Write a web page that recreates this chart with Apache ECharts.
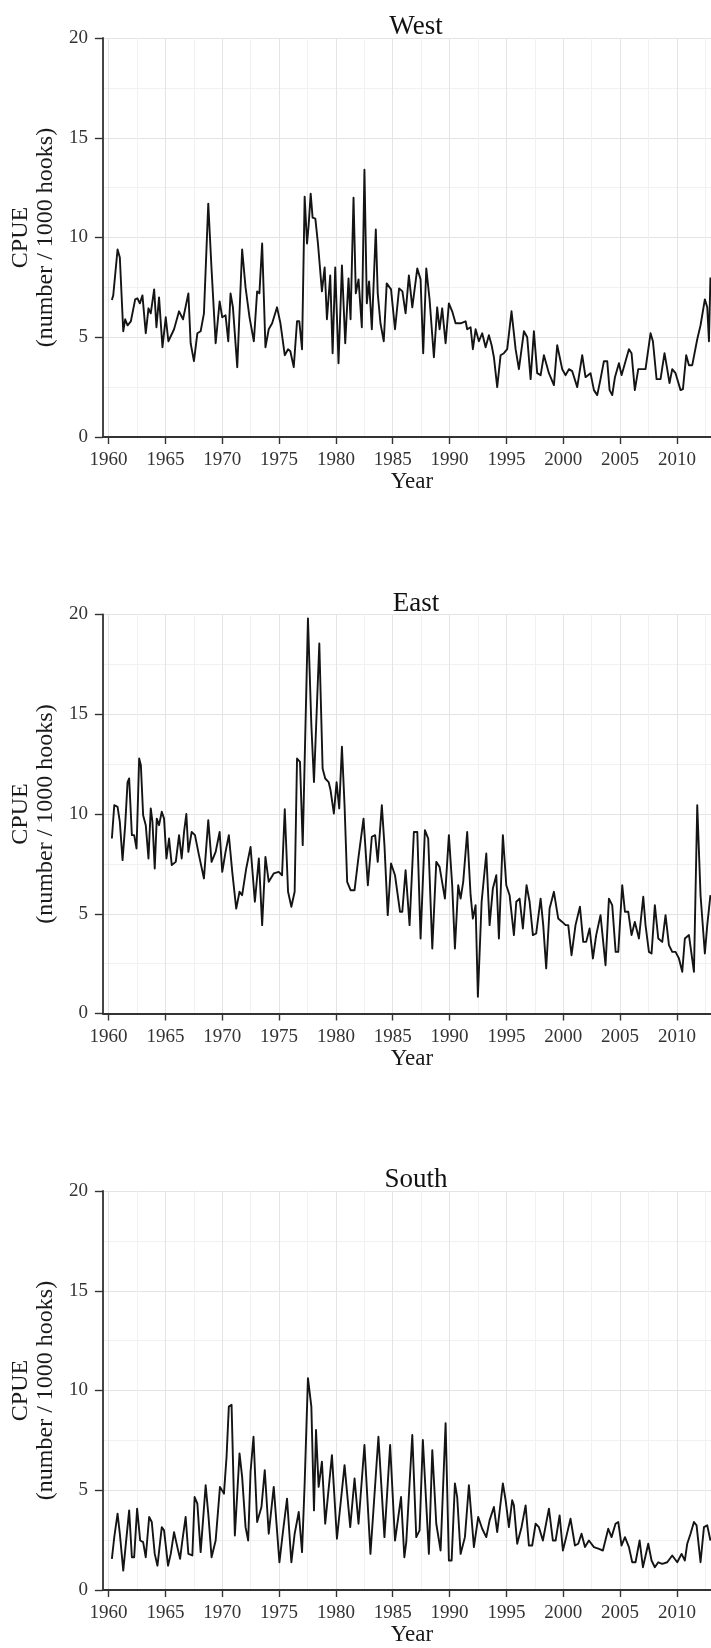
<!DOCTYPE html>
<html>
<head>
<meta charset="utf-8">
<title>CPUE by region</title>
<script src="https://cdn.jsdelivr.net/npm/echarts@6/dist/echarts.min.js"></script>
<style>
  html, body { margin: 0; padding: 0; background: #ffffff; }
  #chart { width: 711px; height: 1648px; }
</style>
</head>
<body>
<div id="chart"></div>
<script>
// Quarterly catch per unit effort (number / 1000 hooks), by region.
const regionNames = ['West', 'East', 'South'];

const westYear = [1960.29,1960.41,1960.79,1960.99,1961.29,1961.46,1961.67,1961.96,1962.34,1962.54,1962.75,1962.98,1963.27,1963.51,1963.71,1964.01,1964.21,1964.44,1964.74,1965.03,1965.26,1965.76,1966.2,1966.55,1967.02,1967.22,1967.51,1967.81,1968.1,1968.39,1968.77,1969.06,1969.42,1969.77,1970.0,1970.29,1970.53,1970.73,1970.94,1971.32,1971.75,1972.05,1972.4,1972.78,1973.07,1973.27,1973.51,1973.8,1974.09,1974.39,1974.82,1975.12,1975.5,1975.79,1975.99,1976.29,1976.58,1976.78,1977.02,1977.25,1977.46,1977.6,1977.78,1977.95,1978.19,1978.42,1978.77,1979.01,1979.21,1979.5,1979.71,1979.94,1980.23,1980.53,1980.82,1981.11,1981.29,1981.55,1981.75,1981.99,1982.28,1982.51,1982.72,1982.92,1983.16,1983.51,1983.68,1983.92,1984.21,1984.47,1984.85,1985.2,1985.56,1985.85,1986.13,1986.42,1986.72,1987.16,1987.45,1987.68,1987.95,1988.24,1988.62,1988.91,1989.12,1989.35,1989.65,1989.94,1990.23,1990.53,1990.97,1991.41,1991.55,1991.85,1992.05,1992.29,1992.58,1992.87,1993.17,1993.46,1993.7,1993.9,1994.19,1994.49,1994.78,1995.07,1995.45,1995.81,1996.1,1996.54,1996.83,1997.13,1997.42,1997.71,1998.01,1998.3,1998.74,1999.18,1999.47,1999.91,2000.21,2000.5,2000.79,2001.23,2001.67,2001.96,2002.4,2002.7,2002.99,2003.28,2003.58,2003.87,2004.08,2004.31,2004.55,2004.9,2005.13,2005.43,2005.78,2006.01,2006.3,2006.6,2006.89,2007.24,2007.68,2007.89,2008.21,2008.56,2008.91,2009.15,2009.35,2009.59,2009.88,2010.32,2010.53,2010.82,2011.06,2011.35,2011.79,2012.08,2012.46,2012.67,2012.82,2012.95];
const westCpue = [6.87,7.1,9.4,9.0,5.3,5.9,5.6,5.8,6.9,6.95,6.7,7.1,5.2,6.45,6.2,7.4,5.5,7.0,4.5,6.0,4.8,5.4,6.3,5.9,7.2,4.7,3.8,5.2,5.3,6.2,11.7,8.4,4.7,6.8,6.0,6.1,4.8,7.2,6.5,3.5,9.4,7.5,6.0,4.8,7.3,7.2,9.7,4.5,5.4,5.7,6.5,5.7,4.1,4.4,4.3,3.5,5.8,5.8,4.4,12.05,9.7,10.6,12.2,11.0,10.95,9.7,7.3,8.5,5.9,8.1,4.2,8.5,3.7,8.6,4.7,7.95,5.9,12.0,7.2,7.9,5.5,13.4,6.7,7.8,5.4,10.4,7.2,5.7,4.8,7.7,7.4,5.4,7.45,7.3,6.2,8.1,6.5,8.45,7.9,4.2,8.45,6.9,4.0,6.5,5.4,6.45,4.7,6.7,6.3,5.7,5.7,5.8,5.4,5.5,4.4,5.4,4.8,5.2,4.5,5.1,4.6,4.0,2.5,4.1,4.2,4.4,6.3,4.4,3.4,5.3,5.0,2.9,5.3,3.2,3.1,4.1,3.2,2.6,4.6,3.4,3.1,3.4,3.3,2.5,4.1,3.0,3.2,2.35,2.1,2.9,3.8,3.8,2.35,2.1,3.0,3.7,3.1,3.7,4.4,4.2,2.35,3.4,3.4,3.4,5.2,4.8,2.9,2.9,4.2,3.4,2.7,3.4,3.2,2.35,2.4,4.1,3.6,3.6,4.9,5.6,6.9,6.5,4.8,8.0];

const eastYear = [1960.29,1960.5,1960.79,1960.99,1961.23,1961.46,1961.67,1961.81,1962.05,1962.25,1962.46,1962.69,1962.84,1963.04,1963.27,1963.51,1963.71,1963.86,1964.06,1964.24,1964.44,1964.68,1964.88,1965.09,1965.32,1965.56,1965.91,1966.2,1966.43,1966.64,1966.84,1967.02,1967.31,1967.6,1967.95,1968.39,1968.77,1969.06,1969.42,1969.77,1970.0,1970.29,1970.58,1970.88,1971.23,1971.52,1971.75,1972.11,1972.49,1972.87,1973.22,1973.51,1973.8,1974.09,1974.53,1974.97,1975.26,1975.5,1975.79,1976.08,1976.37,1976.58,1976.84,1977.08,1977.25,1977.54,1977.84,1978.07,1978.33,1978.54,1978.83,1979.06,1979.36,1979.53,1979.82,1980.06,1980.29,1980.53,1980.76,1980.99,1981.29,1981.64,1981.99,1982.43,1982.81,1983.16,1983.45,1983.68,1984.04,1984.27,1984.56,1984.85,1985.2,1985.64,1985.84,1986.13,1986.48,1986.86,1987.16,1987.45,1987.83,1988.12,1988.48,1988.83,1989.12,1989.59,1989.94,1990.23,1990.47,1990.76,1990.97,1991.2,1991.55,1991.85,1992.05,1992.29,1992.49,1992.82,1993.23,1993.52,1993.81,1994.11,1994.34,1994.69,1994.99,1995.28,1995.66,1995.87,1996.16,1996.45,1996.77,1997.04,1997.33,1997.62,1998.01,1998.24,1998.5,1998.8,1999.18,1999.56,1999.91,2000.21,2000.44,2000.73,2001.08,2001.47,2001.76,2002.02,2002.32,2002.61,2002.9,2003.28,2003.72,2004.02,2004.31,2004.61,2004.84,2005.19,2005.43,2005.72,2006.01,2006.3,2006.66,2007.04,2007.24,2007.54,2007.77,2008.06,2008.36,2008.71,2009.0,2009.3,2009.59,2009.88,2010.18,2010.47,2010.7,2011.06,2011.5,2011.79,2012.08,2012.46,2012.67,2012.95];
const eastCpue = [8.77,10.44,10.36,9.6,7.69,9.44,11.6,11.78,8.94,8.94,8.27,12.78,12.45,9.94,9.44,7.77,10.28,9.6,7.27,9.77,9.44,10.11,9.77,7.77,8.77,7.44,7.6,8.94,7.77,9.1,10.0,8.1,9.1,8.94,7.94,6.77,9.69,7.6,8.1,9.1,7.1,8.1,8.94,7.1,5.26,6.1,5.93,7.27,8.35,5.6,7.77,4.43,7.85,6.6,7.02,7.1,6.93,10.24,6.1,5.35,6.1,12.78,12.61,8.44,8.44,19.8,14.45,11.6,15.45,18.55,12.28,11.78,11.6,11.19,10.02,11.6,10.28,13.37,10.44,6.6,6.18,6.18,7.85,9.77,6.43,8.86,8.94,7.6,10.44,8.44,4.93,7.52,6.93,5.1,5.1,7.18,4.43,9.1,9.1,3.76,9.19,8.77,3.26,7.6,7.35,5.76,8.94,6.43,3.26,6.43,5.76,6.6,9.1,5.93,4.76,5.43,0.84,5.6,8.02,4.43,6.27,6.93,3.76,8.94,6.43,5.93,3.93,5.6,5.76,4.26,6.43,5.6,3.93,4.01,5.76,4.43,2.26,5.26,6.1,4.76,4.59,4.43,4.43,2.92,4.43,5.35,3.59,3.59,4.26,2.76,3.93,4.93,2.42,5.76,5.43,3.09,3.09,6.43,5.1,5.1,3.93,4.59,3.76,5.85,4.43,3.09,3.01,5.43,3.76,3.59,4.93,3.43,3.09,3.09,2.76,2.09,3.76,3.93,2.09,10.44,5.93,3.01,4.43,5.93];

const southYear = [1960.29,1960.5,1960.79,1960.99,1961.29,1961.52,1961.81,1962.05,1962.25,1962.51,1962.78,1963.04,1963.27,1963.57,1963.8,1964.06,1964.3,1964.68,1964.88,1965.23,1965.47,1965.76,1966.05,1966.29,1966.49,1966.78,1967.02,1967.37,1967.57,1967.81,1968.1,1968.54,1968.77,1969.06,1969.42,1969.8,1970.15,1970.38,1970.58,1970.82,1971.11,1971.52,1971.75,1972.05,1972.28,1972.49,1972.75,1973.07,1973.45,1973.74,1974.09,1974.53,1975.03,1975.32,1975.7,1976.08,1976.37,1976.73,1977.02,1977.25,1977.54,1977.84,1978.07,1978.25,1978.48,1978.77,1979.06,1979.65,1980.09,1980.76,1981.26,1981.64,1981.99,1982.51,1983.04,1983.74,1984.27,1984.77,1985.2,1985.73,1986.02,1986.19,1986.36,1986.72,1987.07,1987.36,1987.65,1988.18,1988.48,1988.83,1989.21,1989.65,1989.94,1990.18,1990.47,1990.67,1990.97,1991.35,1991.7,1992.14,1992.52,1992.87,1993.23,1993.52,1993.9,1994.19,1994.69,1994.93,1995.22,1995.51,1995.66,1995.95,1996.33,1996.69,1996.98,1997.27,1997.57,1997.86,1998.21,1998.74,1999.09,1999.33,1999.68,1999.97,2000.26,2000.64,2001.03,2001.32,2001.61,2001.91,2002.26,2002.7,2003.14,2003.49,2003.96,2004.25,2004.6,2004.84,2005.13,2005.43,2005.78,2006.07,2006.36,2006.72,2007.01,2007.48,2007.77,2008.06,2008.36,2008.71,2009.15,2009.59,2010.03,2010.41,2010.7,2010.91,2011.2,2011.5,2011.73,2012.08,2012.38,2012.67,2012.95];
const southCpue = [1.56,2.65,3.83,2.82,0.97,2.32,3.99,1.64,1.64,4.08,2.48,2.4,1.64,3.66,3.41,1.81,1.22,3.15,2.99,1.22,1.81,2.9,2.15,1.56,2.48,3.66,1.81,1.73,4.66,4.33,1.9,5.25,3.83,1.64,2.48,5.17,4.83,6.68,9.19,9.28,2.73,6.85,5.67,3.15,2.48,5.92,7.68,3.41,4.16,6.01,2.82,5.17,1.39,2.82,4.58,1.39,2.82,3.91,1.9,5.34,10.62,9.19,3.99,8.02,5.17,6.43,3.32,6.76,2.57,6.26,3.15,5.59,3.32,7.27,1.81,7.68,2.65,7.27,2.48,4.66,1.64,2.4,2.4,7.77,2.65,2.99,7.52,1.81,7.01,3.32,1.98,8.36,1.48,1.48,5.34,4.66,1.81,2.65,5.25,2.15,3.66,3.07,2.65,3.49,4.16,2.9,5.34,4.5,3.15,4.5,4.24,2.32,3.15,4.24,2.23,2.23,3.32,3.15,2.48,4.08,2.48,2.48,3.74,1.98,2.65,3.57,2.23,2.32,2.82,2.15,2.48,2.15,2.06,1.98,3.07,2.65,3.32,3.41,2.23,2.65,2.15,1.39,1.39,2.48,1.14,2.32,1.48,1.14,1.39,1.31,1.39,1.73,1.39,1.81,1.48,2.32,2.82,3.41,3.24,1.39,3.15,3.24,2.48];

const yearAxisMin = 1959.5;
const yearAxisMax = 2013;
const cpueAxisMin = 0;
const cpueAxisMax = 20;
const cpueStep = 5;

const seriesByRegion = [
  [westYear, westCpue],
  [eastYear, eastCpue],
  [southYear, southCpue]
];

// Layout of the three stacked panels
const FONT = "'Liberation Serif', 'DejaVu Serif', 'Times New Roman', serif";
const PANEL_TOP = 38;
const PANEL_STEP = 576.5;
const PANEL_HEIGHT = 399;
const PANEL_LEFT = 101.5;
const AXIS_COLOR = '#333333';
const GRID_MAJOR = '#e4e4e4';
const GRID_MINOR = '#f1f1f1';

const pairs = (xs, ys) => xs.map((x, i) => [x, ys[i]]);

const grids = [], xAxes = [], yAxes = [], titles = [], series = [];

regionNames.forEach((name, i) => {
  const top = PANEL_TOP + i * PANEL_STEP;
  grids.push({ left: PANEL_LEFT, right: 0, top: top, height: PANEL_HEIGHT, containLabel: false });

  titles.push({
    text: name,
    left: 411,
    top: top - 29.5,
    textAlign: 'center',
    textStyle: { fontFamily: FONT, fontSize: 27, fontWeight: 'normal', color: '#111' }
  });

  xAxes.push({
    type: 'value',
    gridIndex: i,
    min: yearAxisMin,
    max: yearAxisMax,
    splitNumber: 10,
    name: 'Year',
    nameLocation: 'middle',
    nameGap: 33,
    nameTextStyle: { fontFamily: FONT, fontSize: 23, lineHeight: 23, color: '#1a1a1a', padding: [0, 0, 0, 10] },
    axisLine: { show: true, onZero: false, lineStyle: { color: AXIS_COLOR, width: 1.8 } },
    axisTick: { show: true, length: 7, lineStyle: { color: AXIS_COLOR, width: 1.4 } },
    axisLabel: {
      showMinLabel: false,
      showMaxLabel: false,
      margin: 14,
      fontFamily: FONT,
      fontSize: 19,
      color: '#333',
      formatter: v => String(v)
    },
    splitLine: { show: true, lineStyle: { color: GRID_MAJOR, width: 1 } },
    minorTick: { show: false, splitNumber: 2 },
    minorSplitLine: { show: true, lineStyle: { color: GRID_MINOR, width: 1 } }
  });

  yAxes.push({
    type: 'value',
    gridIndex: i,
    min: cpueAxisMin,
    max: cpueAxisMax,
    interval: cpueStep,
    name: 'CPUE\n(number / 1000 hooks)',
    nameLocation: 'middle',
    nameRotate: 90,
    nameGap: 37,
    nameTextStyle: { fontFamily: FONT, fontSize: 24, lineHeight: 25, color: '#1a1a1a', align: 'center' },
    axisLine: { show: true, onZero: false, lineStyle: { color: AXIS_COLOR, width: 1.8 } },
    axisTick: { show: true, length: 8, lineStyle: { color: AXIS_COLOR, width: 1.4 } },
    axisLabel: { margin: 15, fontFamily: FONT, fontSize: 19, color: '#333' },
    splitLine: { show: true, lineStyle: { color: GRID_MAJOR, width: 1 } },
    minorTick: { show: false, splitNumber: 2 },
    minorSplitLine: { show: true, lineStyle: { color: GRID_MINOR, width: 1 } }
  });

  const [years, cpue] = seriesByRegion[i];
  series.push({
    name: name,
    type: 'line',
    xAxisIndex: i,
    yAxisIndex: i,
    data: pairs(years, cpue),
    showSymbol: false,
    symbol: 'none',
    smooth: false,
    clip: true,
    lineStyle: { color: '#141414', width: 1.9, join: 'round' }
  });
});

const chart = echarts.init(document.getElementById('chart'), null, { renderer: 'canvas', width: 711, height: 1648 });
chart.setOption({
  backgroundColor: '#ffffff',
  animation: false,
  title: titles,
  grid: grids,
  xAxis: xAxes,
  yAxis: yAxes,
  series: series
});
</script>
</body>
</html>
